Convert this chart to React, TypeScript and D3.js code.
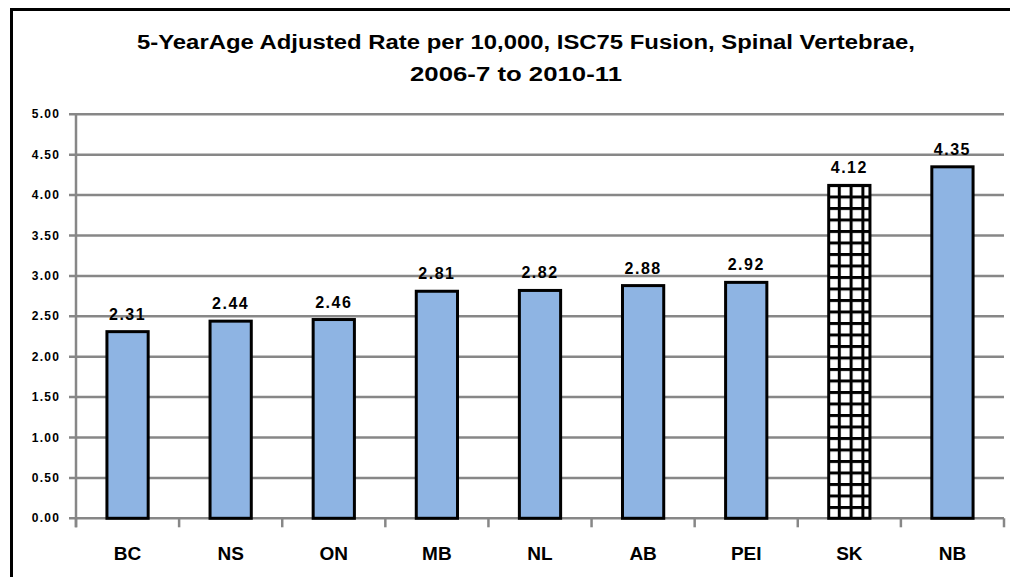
import * as d3 from 'd3'
import { useEffect, useRef } from 'react'

// provinces, sorted by rate
const provinces = ['BC', 'NS', 'ON', 'MB', 'NL', 'AB', 'PEI', 'SK', 'NB']
const rates = [2.31, 2.44, 2.46, 2.81, 2.82, 2.88, 2.92, 4.12, 4.35]
const rateLabels = ['2.31', '2.44', '2.46', '2.81', '2.82', '2.88', '2.92', '4.12', '4.35']
const yTicks = [0, 0.5, 1, 1.5, 2, 2.5, 3, 3.5, 4, 4.5, 5]
const highlighted = ['SK'] // drawn with the grid pattern
const titleLines = [
  '5-YearAge  Adjusted  Rate per  10,000, ISC75 Fusion, Spinal  Vertebrae,',
  '2006-7 to 2010-11',
]

const W = 1010
const H = 577

export default function App() {
  const svgRef = useRef(null)

  useEffect(() => {
    const svg = d3.select(svgRef.current)
    svg.selectAll('*').remove()

    const left = 76
    const right = 1004
    const top = 114.3
    const bottom = 518.3
    const font = "'Liberation Sans', Arial, sans-serif"

    const x = d3.scaleBand().domain(provinces).range([left, right]).paddingInner(0.6).paddingOuter(0.3)
    const y = d3.scaleLinear().domain([0, 5]).range([bottom, top])

    // hatch pattern for SK
    const defs = svg.append('defs')
    const pat = defs.append('pattern')
      .attr('id', 'grid')
      .attr('patternUnits', 'userSpaceOnUse')
      .attr('width', 11.8)
      .attr('height', 11.5)
      .attr('x', 0).attr('y', 0)
    pat.append('rect').attr('width', 11.8).attr('height', 11.5).attr('fill', '#fff')
    pat.append('rect').attr('x', 0).attr('y', 0).attr('width', 3).attr('height', 11.5).attr('fill', '#000')
    pat.append('rect').attr('x', 0).attr('y', 0).attr('width', 11.8).attr('height', 3).attr('fill', '#000')

    // outer frame (left + top only visible)
    svg.append('path')
      .attr('d', `M11.5,${H} L11.5,9.5 L${W},9.5`)
      .attr('fill', 'none')
      .attr('stroke', '#000')
      .attr('stroke-width', 3)

    // title
    const title = svg.append('g').attr('font-family', font).attr('font-weight', 'bold').attr('font-size', 20).attr('fill', '#000')
    title.append('text').attr('x', 526).attr('y', 49).attr('text-anchor', 'middle')
      .attr('textLength', 778).attr('lengthAdjust', 'spacingAndGlyphs')
      .text(titleLines[0])
    title.append('text').attr('x', 516).attr('y', 81).attr('text-anchor', 'middle')
      .attr('textLength', 212).attr('lengthAdjust', 'spacingAndGlyphs')
      .text(titleLines[1])

    // gridlines + y ticks
    const grid = svg.append('g')
    grid.selectAll('line')
      .data(yTicks)
      .join('line')
      .attr('x1', left - 7)
      .attr('x2', right)
      .attr('y1', (d) => y(d))
      .attr('y2', (d) => y(d))
      .attr('stroke', '#878787')
      .attr('stroke-width', 2.5)

    grid.selectAll('text')
      .data(yTicks)
      .join('text')
      .attr('x', 60)
      .attr('y', (d) => y(d) + 4)
      .attr('text-anchor', 'end')
      .attr('font-family', font)
      .attr('font-weight', 'bold')
      .attr('font-size', 12)
      .attr('letter-spacing', 1.2)
      .text((d) => d3.format('.2f')(d))

    // y axis line
    svg.append('line')
      .attr('x1', left).attr('x2', left)
      .attr('y1', top).attr('y2', bottom + 9)
      .attr('stroke', '#878787').attr('stroke-width', 2.5)

    // category ticks under the axis
    const step = x.step()
    svg.append('g').selectAll('line')
      .data(d3.range(provinces.length + 1))
      .join('line')
      .attr('x1', (i) => left + i * step)
      .attr('x2', (i) => left + i * step)
      .attr('y1', bottom)
      .attr('y2', bottom + 9)
      .attr('stroke', '#878787')
      .attr('stroke-width', 2.5)

    // bars
    svg.append('g').selectAll('rect')
      .data(provinces)
      .join('rect')
      .attr('x', (d) => x(d))
      .attr('y', (d, i) => y(rates[i]))
      .attr('width', x.bandwidth())
      .attr('height', (d, i) => bottom - y(rates[i]))
      .attr('fill', (d) => highlighted.includes(d) ? 'url(#grid)' : '#8eb4e3')
      .attr('stroke', '#000')
      .attr('stroke-width', 3)

    // value labels
    svg.append('g').selectAll('text')
      .data(provinces)
      .join('text')
      .attr('x', (d) => x(d) + x.bandwidth() / 2)
      .attr('y', (d, i) => y(rates[i]) - 12)
      .attr('text-anchor', 'middle')
      .attr('font-family', font)
      .attr('font-weight', 'bold')
      .attr('font-size', 16)
      .attr('letter-spacing', 1.5)
      .text((d, i) => rateLabels[i])

    // category labels
    svg.append('g').selectAll('text')
      .data(provinces)
      .join('text')
      .attr('x', (d) => x(d) + x.bandwidth() / 2)
      .attr('y', 560)
      .attr('text-anchor', 'middle')
      .attr('font-family', font)
      .attr('font-weight', 'bold')
      .attr('font-size', 19)
      .text((d) => d)
  }, [])

  return (
    <svg ref={svgRef} width={W} height={H} style={{ position: 'absolute', left: 0, top: 0, background: '#fff' }}></svg>
  )
}
